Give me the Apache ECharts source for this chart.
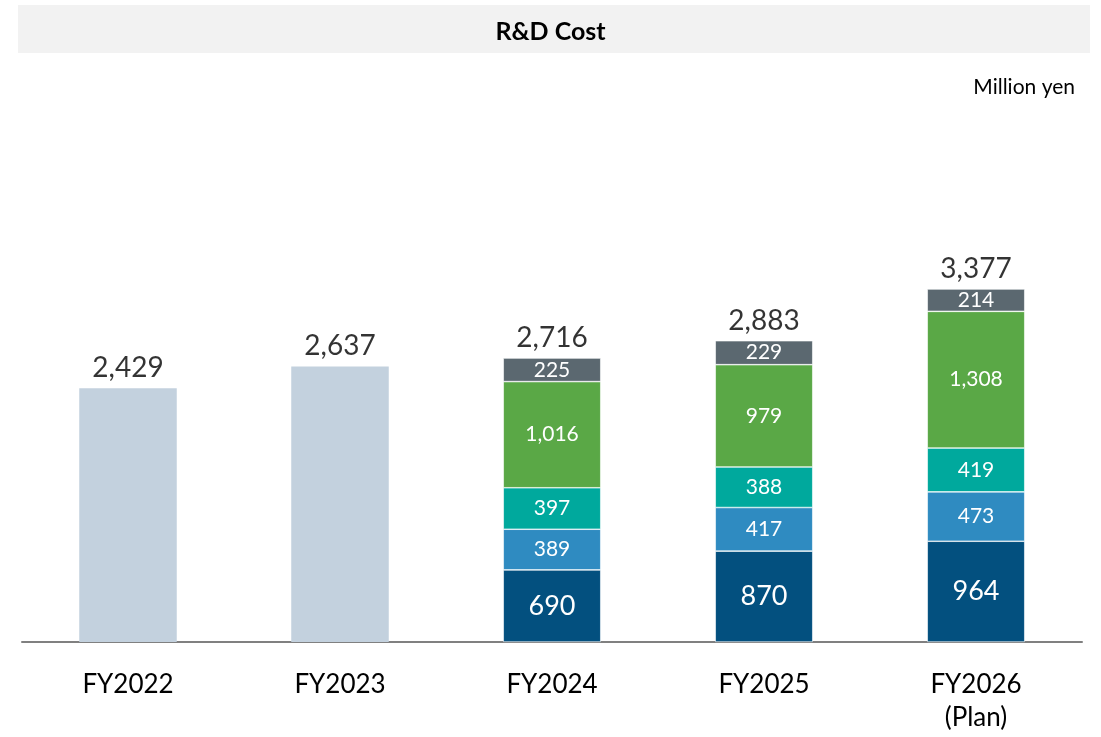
<!DOCTYPE html>
<html>
<head>
<meta charset="utf-8">
<script src="https://cdn.jsdelivr.net/npm/echarts@6/dist/echarts.min.js"></script>
<style>
  html, body { margin: 0; padding: 0; background: #fff; }
  #chart { width: 1101px; height: 737px; }
</style>
</head>
<body>
<div id="chart"></div>
<script>
// データ
const categories = ['FY2022', 'FY2023', 'FY2024', 'FY2025', 'FY2026\n(Plan)'];
const pastTotals = [2429, 2637, '-', '-', '-'];
const seg1 = ['-', '-', 690, 870, 964];
const seg2 = ['-', '-', 389, 417, 473];
const seg3 = ['-', '-', 397, 388, 419];
const seg4 = ['-', '-', 1016, 979, 1308];
const seg5 = ['-', '-', 225, 229, 214];
const totals = [2429, 2637, 2716, 2883, 3377];

const font = 'Lato, "Open Sans", sans-serif';
const fmt = v => Number(v.value).toLocaleString('en-US');

const chart = echarts.init(document.getElementById('chart'));

function segment(data, color, size) {
    return {
        type: 'bar',
        stack: 'rd',
        data: data,
        barWidth: '46%',
        itemStyle: {color: color, borderColor: '#ffffff', borderWidth: 0.6},
        label: {
            show: true,
            position: 'inside',
            color: '#ffffff',
            fontFamily: font,
            fontSize: size,
            formatter: fmt
        }
    };
}

chart.setOption({
    animation: false,
    graphic: [
        {type: 'rect', shape: {x: 18, y: 5, width: 1072, height: 48}, style: {fill: '#f2f2f2'}, z: -1}
    ],
    title: [
        {
            text: 'R&D Cost',
            left: 'center',
            top: 14,
            textStyle: {fontFamily: font, fontSize: 25, fontWeight: 'bold', color: '#000'}
        },
        {
            text: 'Million yen',
            right: 21,
            top: 72,
            textStyle: {fontFamily: font, fontSize: 21, fontWeight: 'normal', color: '#000'}
        }
    ],
    grid: {left: 22, right: 19, top: 224, bottom: 95},
    xAxis: {
        type: 'category',
        data: categories,
        axisLine: {lineStyle: {color: '#808080', width: 2}},
        axisTick: {show: false},
        axisLabel: {color: '#000', fontFamily: font, fontSize: 26, margin: 26, lineHeight: 33}
    },
    yAxis: {
        type: 'value',
        min: 0,
        max: 4000,
        show: false,
        splitLine: {show: false}
    },
    series: [
        {
            type: 'bar',
            stack: 'rd',
            data: pastTotals,
            barWidth: '46%',
            itemStyle: {color: '#c3d1de'}
        },
        segment(seg1, '#03507f', 27),
        segment(seg2, '#2f8bc1', 21),
        segment(seg3, '#00a99d', 21),
        segment(seg4, '#5aa846', 21),
        segment(seg5, '#5b6870', 21),
        {
            type: 'scatter',
            data: totals,
            symbolSize: 0,
            label: {
                show: true,
                position: 'top',
                distance: 6,
                color: '#000',
                fontFamily: font,
                fontSize: 28,
                formatter: fmt
            }
        }
    ]
});
</script>
</body>
</html>
